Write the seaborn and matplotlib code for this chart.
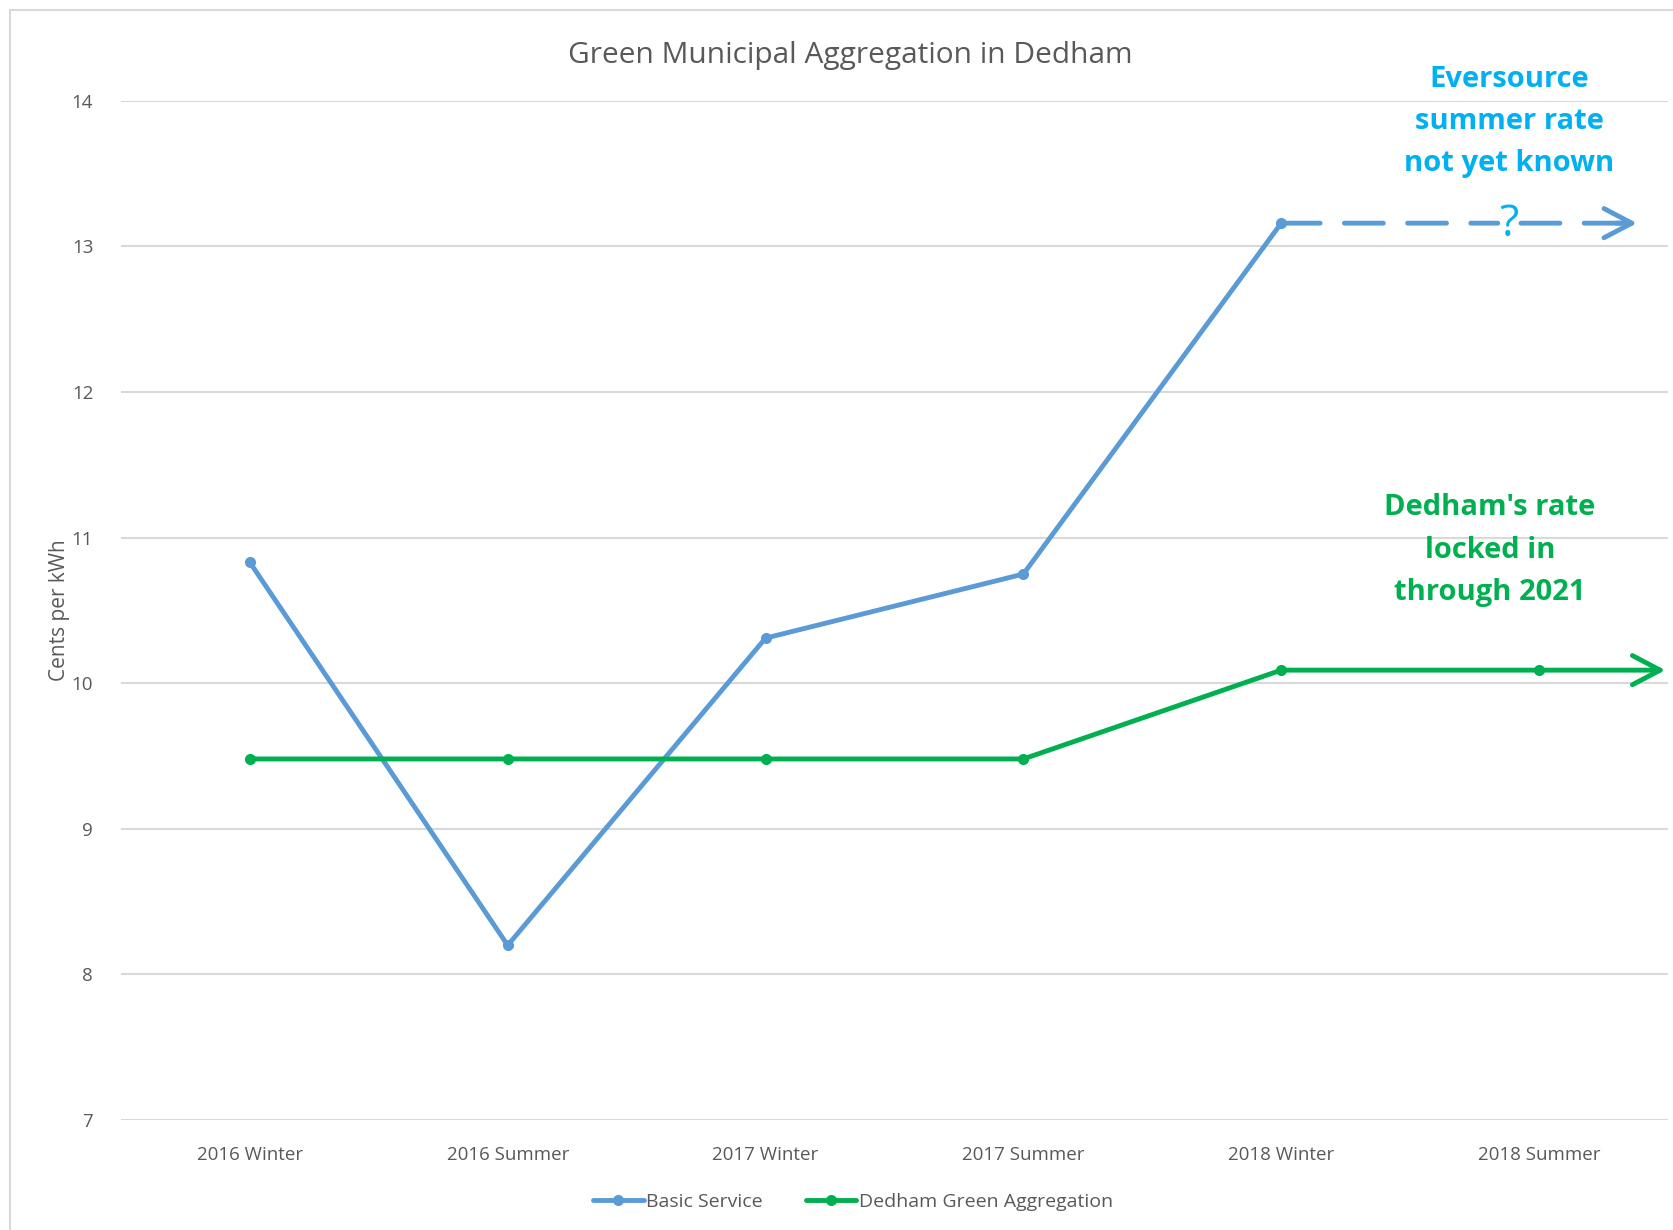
import numpy as np
import pandas as pd
import matplotlib
matplotlib.use("Agg")
import matplotlib.pyplot as plt
import seaborn as sns
from matplotlib.patches import Rectangle

# data
periods = ["2016 Winter", "2016 Summer", "2017 Winter", "2017 Summer", "2018 Winter", "2018 Summer"]
basic_service = [10.83, 8.20, 10.31, 10.75, 13.16, np.nan]
green_aggregation = [9.48, 9.48, 9.48, 9.48, 10.09, 10.09]
series_names = ["Basic Service", "Dedham Green Aggregation"]
yticks = [7, 8, 9, 10, 11, 12, 13, 14]

BLUE = "#5B9BD5"
GREEN = "#00B050"
CYAN = "#00B0F0"
GREY_TXT = "#595959"

df = pd.DataFrame({
    "period": periods * 2,
    "rate": basic_service + green_aggregation,
    "series": [series_names[0]] * len(periods) + [series_names[1]] * len(periods),
})
df = df.dropna()

sns.set_style("white")
plt.rcParams["font.family"] = ["Open Sans", "DejaVu Sans"]

fig = plt.figure(figsize=(16.73, 12.30), dpi=100)
ax = fig.add_axes([0.0723, 0.0894, 0.9247, 0.8286])

sns.lineplot(data=df, x="period", y="rate", hue="series", palette=[BLUE, GREEN],
             marker="o", markersize=8, markeredgewidth=0, linewidth=3.5,
             sort=False, ax=ax, legend=False)

# arrows extending the series to the right
last_blue = basic_service[4]
head = "->,head_length=2.0,head_width=1.05"
# dashed projection, broken around the question mark
ax.annotate("", xy=(4.84, last_blue), xytext=(4.0, last_blue),
            arrowprops=dict(arrowstyle="-", color=BLUE, lw=3.5, linestyle=(0, (8, 5)),
                            shrinkA=0, shrinkB=0))
ax.annotate("", xy=(5.36, last_blue), xytext=(4.93, last_blue),
            arrowprops=dict(arrowstyle="-", color=BLUE, lw=3.5, linestyle=(0, (8, 5)),
                            shrinkA=0, shrinkB=0))
ax.annotate("", xy=(5.38, last_blue), xytext=(5.3, last_blue),
            arrowprops=dict(arrowstyle=head, color=BLUE, lw=3.5, shrinkA=0, shrinkB=0))
ax.text(4.885, last_blue - 0.01, "?", color=CYAN, fontsize=32, ha="center", va="center")
ax.annotate("", xy=(5.49, green_aggregation[5]), xytext=(5.0, green_aggregation[5]),
            arrowprops=dict(arrowstyle=head, color=GREEN, lw=3.5, shrinkA=0, shrinkB=0))

ax.text(4.884, 13.86, "Eversource\nsummer rate\nnot yet known", color=CYAN, fontsize=21,
        fontweight="bold", ha="center", va="center", linespacing=1.6)
ax.text(4.81, 10.915, "Dedham's rate\nlocked in\nthrough 2021", color=GREEN, fontsize=21,
        fontweight="bold", ha="center", va="center", linespacing=1.6)

ax.set_xlim(-0.5, 5.5)
ax.set_ylim(7, 14)
ax.set_yticks(yticks)
ax.yaxis.grid(True, color="#D9D9D9", linewidth=1.5)
ax.set_axisbelow(True)
for s in ax.spines.values():
    s.set_visible(False)
ax.tick_params(axis="both", length=0, labelsize=13.5, colors=GREY_TXT)
ax.tick_params(axis="x", pad=19)
ax.tick_params(axis="y", pad=20)
ax.set_xlabel("")
ax.set_ylabel("Cents per kWh", fontsize=15, color=GREY_TXT, labelpad=1)

fig.text(0.508, 0.955, "Green Municipal Aggregation in Dedham", fontsize=21.5,
         color=GREY_TXT, ha="center", va="center")

# legend
handles = [plt.Line2D([], [], color=c, lw=3.5, marker="o", markersize=8, markeredgewidth=0)
           for c in [BLUE, GREEN]]
fig.legend(handles, series_names, loc="center", bbox_to_anchor=(0.51, 0.023), ncol=2,
           frameon=False, fontsize=14, handlelength=2.6, handletextpad=0.15, columnspacing=2.2,
           labelcolor=GREY_TXT)

# light frame around the chart area
fig.add_artist(Rectangle((0.006, -0.05), 1.2, 1.042, transform=fig.transFigure,
                         fill=False, edgecolor="#D9D9D9", linewidth=1.5))

fig.savefig("out.png", dpi=100)
